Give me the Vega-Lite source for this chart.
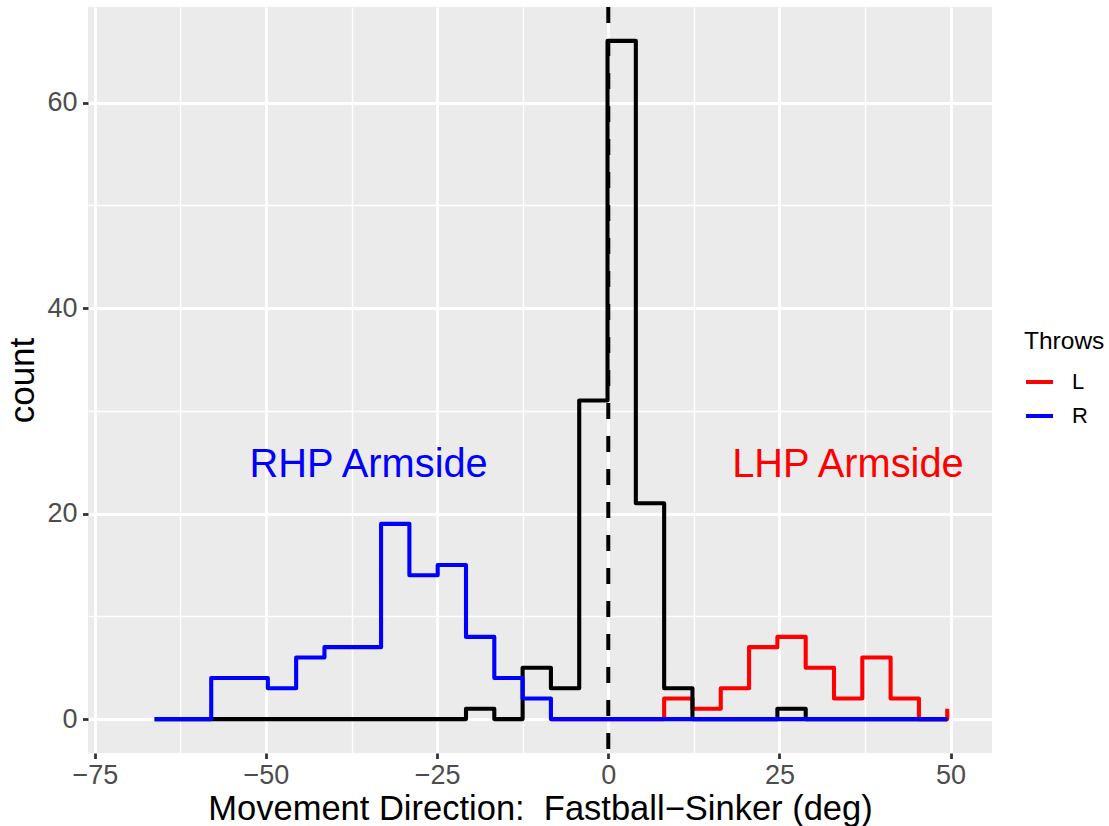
{
  "$schema": "https://vega.github.io/schema/vega-lite/v6.json",
  "width": 904,
  "height": 746,
  "autosize": {"type": "none"},
  "padding": {"left": 88, "top": 7, "right": 117, "bottom": 73},
  "background": "white",
  "config": {
    "font": "Liberation Sans",
    "view": {"fill": "#EBEBEB", "stroke": null},
    "axis": {
      "domain": false,
      "gridColor": "#FFFFFF",
      "labelFont": "Liberation Sans",
      "titleFont": "Liberation Sans",
      "titleFontWeight": "normal",
      "titleColor": "#000000",
      "labelColor": "#4D4D4D",
      "tickColor": "#333333"
    },
    "legend": {
      "titleFont": "Liberation Sans",
      "labelFont": "Liberation Sans",
      "titleFontWeight": "normal"
    }
  },
  "datasets": {
    "steps": [
      {"x": -66.27, "count": 0, "group": "All"},
      {"x": -62.135, "count": 0, "group": "All"},
      {"x": -58.0, "count": 0, "group": "All"},
      {"x": -53.865, "count": 0, "group": "All"},
      {"x": -49.73, "count": 0, "group": "All"},
      {"x": -45.595, "count": 0, "group": "All"},
      {"x": -41.46, "count": 0, "group": "All"},
      {"x": -37.325, "count": 0, "group": "All"},
      {"x": -33.19, "count": 0, "group": "All"},
      {"x": -29.055, "count": 0, "group": "All"},
      {"x": -24.92, "count": 0, "group": "All"},
      {"x": -20.785, "count": 1, "group": "All"},
      {"x": -16.65, "count": 0, "group": "All"},
      {"x": -12.515, "count": 5, "group": "All"},
      {"x": -8.38, "count": 3, "group": "All"},
      {"x": -4.245, "count": 31, "group": "All"},
      {"x": -0.11, "count": 66, "group": "All"},
      {"x": 4.025, "count": 21, "group": "All"},
      {"x": 8.16, "count": 3, "group": "All"},
      {"x": 12.295, "count": 0, "group": "All"},
      {"x": 16.43, "count": 0, "group": "All"},
      {"x": 20.565, "count": 0, "group": "All"},
      {"x": 24.7, "count": 1, "group": "All"},
      {"x": 28.835, "count": 0, "group": "All"},
      {"x": 32.97, "count": 0, "group": "All"},
      {"x": 37.105, "count": 0, "group": "All"},
      {"x": 41.24, "count": 0, "group": "All"},
      {"x": 45.375, "count": 0, "group": "All"},
      {"x": 49.51, "count": 0, "group": "All"},

      {"x": -8.38, "count": 0, "group": "L"},
      {"x": -4.245, "count": 0, "group": "L"},
      {"x": -0.11, "count": 0, "group": "L"},
      {"x": 4.025, "count": 0, "group": "L"},
      {"x": 8.16, "count": 2, "group": "L"},
      {"x": 12.295, "count": 1, "group": "L"},
      {"x": 16.43, "count": 3, "group": "L"},
      {"x": 20.565, "count": 7, "group": "L"},
      {"x": 24.7, "count": 8, "group": "L"},
      {"x": 28.835, "count": 5, "group": "L"},
      {"x": 32.97, "count": 2, "group": "L"},
      {"x": 37.105, "count": 6, "group": "L"},
      {"x": 41.24, "count": 2, "group": "L"},
      {"x": 45.375, "count": 0, "group": "L"},
      {"x": 49.51, "count": 1, "group": "L"},

      {"x": -66.27, "count": 0, "group": "R"},
      {"x": -62.135, "count": 0, "group": "R"},
      {"x": -58.0, "count": 4, "group": "R"},
      {"x": -53.865, "count": 4, "group": "R"},
      {"x": -49.73, "count": 3, "group": "R"},
      {"x": -45.595, "count": 6, "group": "R"},
      {"x": -41.46, "count": 7, "group": "R"},
      {"x": -37.325, "count": 7, "group": "R"},
      {"x": -33.19, "count": 19, "group": "R"},
      {"x": -29.055, "count": 14, "group": "R"},
      {"x": -24.92, "count": 15, "group": "R"},
      {"x": -20.785, "count": 8, "group": "R"},
      {"x": -16.65, "count": 4, "group": "R"},
      {"x": -12.515, "count": 2, "group": "R"},
      {"x": -8.38, "count": 0, "group": "R"},
      {"x": -4.245, "count": 0, "group": "R"},
      {"x": -0.11, "count": 0, "group": "R"},
      {"x": 4.025, "count": 0, "group": "R"},
      {"x": 8.16, "count": 0, "group": "R"},
      {"x": 12.295, "count": 0, "group": "R"},
      {"x": 16.43, "count": 0, "group": "R"},
      {"x": 20.565, "count": 0, "group": "R"},
      {"x": 24.7, "count": 0, "group": "R"},
      {"x": 28.835, "count": 0, "group": "R"},
      {"x": 32.97, "count": 0, "group": "R"},
      {"x": 37.105, "count": 0, "group": "R"},
      {"x": 41.24, "count": 0, "group": "R"},
      {"x": 45.375, "count": 0, "group": "R"},
      {"x": 49.51, "count": 0, "group": "R"}
    ],
    "notes": [
      {"x": -35, "y": 25, "label": "RHP Armside", "side": "R"},
      {"x": 35, "y": 25, "label": "LHP Armside", "side": "L"}
    ],
    "zero": [{"x": 0}]
  },
  "layer": [
    {
      "data": {"name": "steps"},
      "transform": [{"filter": "datum.group === 'L'"}],
      "mark": {"type": "line", "interpolate": "step-after", "strokeWidth": 4.1, "strokeJoin": "round"},
      "encoding": {
        "x": {
          "field": "x", "type": "quantitative",
          "scale": {"domain": [-76.0, 56.05], "nice": false, "zero": false},
          "axis": {
            "orient": "bottom", "values": [-75, -50, -25, 0, 25, 50], "grid": true, "gridWidth": 2.8,
            "ticks": true, "tickSize": 5.5, "tickWidth": 2.8, "labelFontSize": 27, "labelPadding": 4,
            "title": "Movement Direction:\u00a0 Fastball\u2212Sinker (deg)", "titleFontSize": 34.5,
            "titleBaseline": "alphabetic", "titleY": 66
          }
        },
        "y": {
          "field": "count", "type": "quantitative",
          "scale": {"domain": [-3.3, 69.3], "nice": false, "zero": false},
          "axis": {
            "orient": "left", "values": [0, 20, 40, 60], "grid": true, "gridWidth": 2.8,
            "ticks": true, "tickSize": 5.5, "tickWidth": 2.8, "labelFontSize": 27, "labelPadding": 5.5,
            "title": "count", "titleFontSize": 35, "titleBaseline": "alphabetic", "titleX": -55, "titleY": 373, "titleAlign": "center", "titleAngle": -90
          }
        },
        "color": {
          "field": "group", "type": "nominal",
          "scale": {"domain": ["L", "R"], "range": ["#FF0000", "#0000FF"]},
          "legend": {
            "title": "Throws", "orient": "none", "legendX": 936, "legendY": 323,
            "titleFontSize": 24.5, "titleColor": "#000000", "titlePadding": 12,
            "labelFontSize": 22, "labelColor": "#000000", "labelOffset": 17,
            "symbolType": "stroke", "symbolSize": 729, "symbolStrokeWidth": 4,
            "rowPadding": 7, "padding": 0
          }
        }
      }
    },
    {
      "data": {"name": "steps"},
      "transform": [{"filter": "datum.group === 'All'"}],
      "mark": {"type": "line", "interpolate": "step-after", "color": "#000000", "strokeWidth": 4.1, "strokeJoin": "round"},
      "encoding": {
        "x": {
          "field": "x", "type": "quantitative",
          "axis": {"orient": "top", "values": [-62.5, -37.5, -12.5, 12.5, 37.5], "grid": true, "gridWidth": 1.4, "labels": false, "ticks": false, "domain": false, "title": null}
        },
        "y": {
          "field": "count", "type": "quantitative",
          "axis": {"orient": "right", "values": [10, 30, 50], "grid": true, "gridWidth": 1.4, "labels": false, "ticks": false, "domain": false, "title": null}
        }
      }
    },
    {
      "data": {"name": "steps"},
      "transform": [{"filter": "datum.group === 'R'"}],
      "mark": {"type": "line", "interpolate": "step-after", "strokeWidth": 4.1, "strokeJoin": "round"},
      "encoding": {
        "x": {"field": "x", "type": "quantitative", "axis": null},
        "y": {"field": "count", "type": "quantitative", "axis": null},
        "color": {"field": "group", "type": "nominal"}
      }
    },
    {
      "data": {"name": "zero"},
      "mark": {"type": "rule", "color": "#000000", "strokeWidth": 4, "strokeDash": [16, 17]},
      "encoding": {
        "x": {"field": "x", "type": "quantitative", "axis": null}
      }
    },
    {
      "data": {"name": "notes"},
      "transform": [{"filter": "datum.side === 'R'"}],
      "mark": {"type": "text", "color": "#0000FF", "fontSize": 39.8, "align": "center", "baseline": "alphabetic", "dy": 14.7, "font": "Liberation Sans"},
      "encoding": {
        "x": {"field": "x", "type": "quantitative", "axis": null},
        "y": {"field": "y", "type": "quantitative", "axis": null},
        "text": {"field": "label"}
      }
    },
    {
      "data": {"name": "notes"},
      "transform": [{"filter": "datum.side === 'L'"}],
      "mark": {"type": "text", "color": "#FF0000", "fontSize": 39.8, "align": "center", "baseline": "alphabetic", "dy": 14.7, "font": "Liberation Sans"},
      "encoding": {
        "x": {"field": "x", "type": "quantitative", "axis": null},
        "y": {"field": "y", "type": "quantitative", "axis": null},
        "text": {"field": "label"}
      }
    }
  ],
  "resolve": {"axis": {"x": "independent", "y": "independent"}}
}
